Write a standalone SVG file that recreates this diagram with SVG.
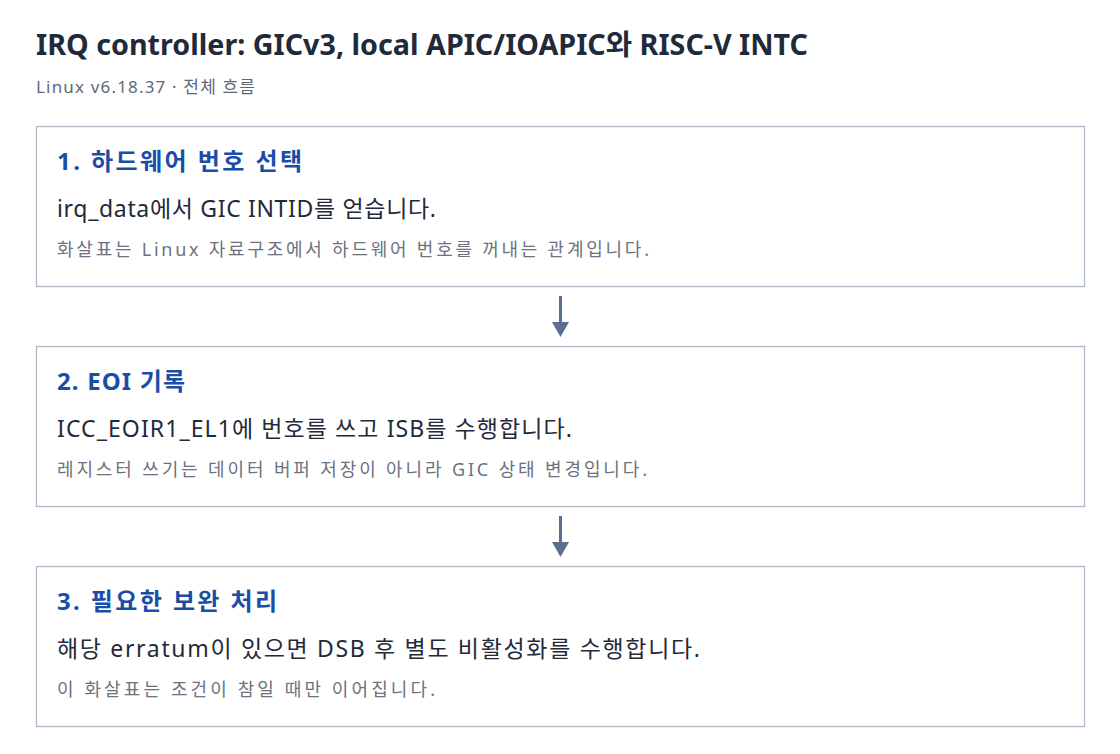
<svg xmlns="http://www.w3.org/2000/svg" width="1120" height="754" viewBox="0 0 1120 754">
<style>
text{font-family:"Noto Sans","Noto Sans CJK KR",sans-serif}
.title{font-size:28px;font-weight:700;fill:#1f2a3a}
.sub{font-size:17px;fill:#5f6875}
.box{fill:#ffffff;stroke:#aeb8c6;stroke-width:1.3}
.h{font-size:24px;font-weight:700;fill:#1a4ea6}
.m{font-size:23px;fill:#1f2a3a}
.n{font-size:18px;fill:#6b7280}
.conn{stroke:#5b7090;stroke-width:3;fill:none}
.head{fill:#5b7090}
</style>
<rect width="1120" height="754" fill="#ffffff"/>
<text class="title" x="36" y="55" textLength="772" lengthAdjust="spacingAndGlyphs">IRQ controller: GICv3, local APIC/IOAPIC와 RISC-V INTC</text>
<text class="sub" x="36" y="93" textLength="219" lengthAdjust="spacing">Linux v6.18.37 · 전체 흐름</text>
<g id="node1">
<rect class="box" x="36.5" y="126.5" width="1048" height="160"/>
<text class="h" x="57" y="170" textLength="245" lengthAdjust="spacing">1. 하드웨어 번호 선택</text>
<text class="m" x="57" y="217" textLength="379" lengthAdjust="spacing">irq_data에서 GIC INTID를 얻습니다.</text>
<text class="n" x="57" y="256" textLength="592" lengthAdjust="spacing">화살표는 Linux 자료구조에서 하드웨어 번호를 꺼내는 관계입니다.</text>
</g>
<g id="node2">
<rect class="box" x="36.5" y="346.5" width="1048" height="160"/>
<text class="h" x="57" y="390" textLength="128" lengthAdjust="spacing">2. EOI 기록</text>
<text class="m" x="57" y="437" textLength="515" lengthAdjust="spacing">ICC_EOIR1_EL1에 번호를 쓰고 ISB를 수행합니다.</text>
<text class="n" x="57" y="476" textLength="590" lengthAdjust="spacing">레지스터 쓰기는 데이터 버퍼 저장이 아니라 GIC 상태 변경입니다.</text>
</g>
<g id="node3">
<rect class="box" x="36.5" y="566.5" width="1048" height="160"/>
<text class="h" x="57" y="610" textLength="220" lengthAdjust="spacing">3. 필요한 보완 처리</text>
<text class="m" x="57" y="657" textLength="643" lengthAdjust="spacing">해당 erratum이 있으면 DSB 후 별도 비활성화를 수행합니다.</text>
<text class="n" x="57" y="696" textLength="378" lengthAdjust="spacing">이 화살표는 조건이 참일 때만 이어집니다.</text>
</g>
<g id="connectors">
<line class="conn" x1="560.5" y1="296" x2="560.5" y2="324"/>
<polygon class="head" points="552,322 569,322 560.5,337"/>
<line class="conn" x1="560.5" y1="516" x2="560.5" y2="544"/>
<polygon class="head" points="552,542 569,542 560.5,557"/>
</g>
</svg>
